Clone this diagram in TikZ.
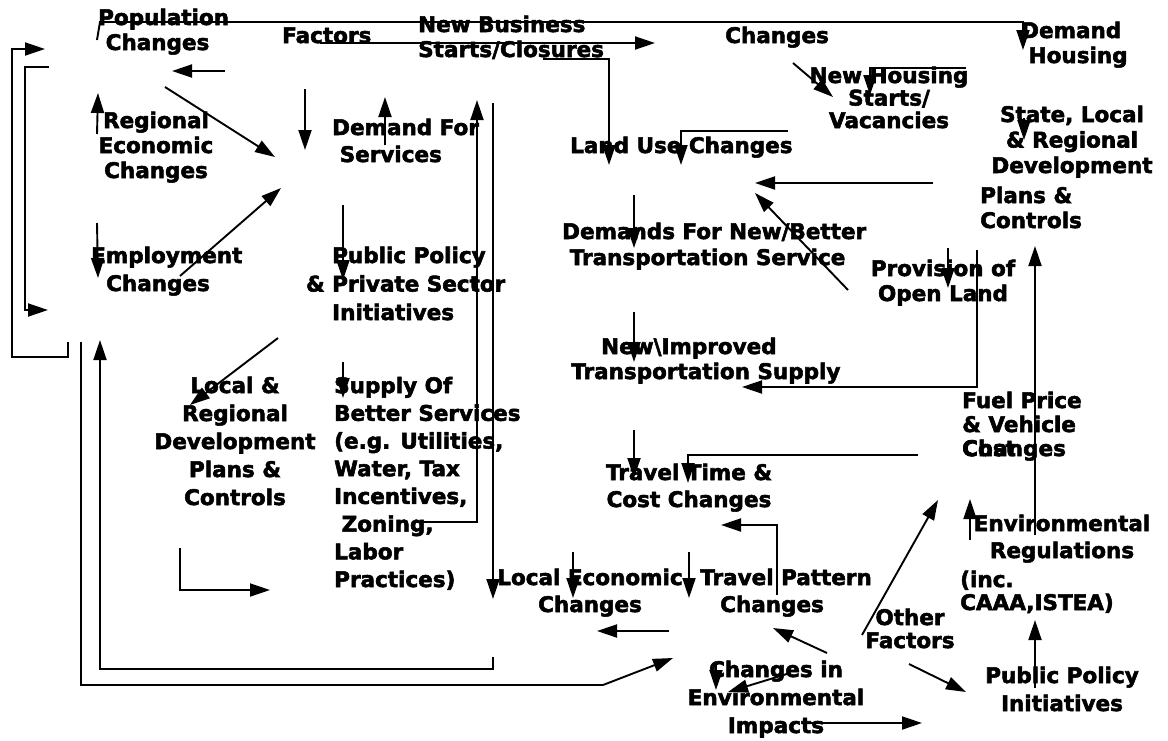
\documentclass[tikz,border=0pt]{standalone}
\usepackage{fontspec}
\setmainfont{DejaVu Sans}[BoldFeatures={FakeBold=2.5}]
\usetikzlibrary{arrows.meta}

\tikzset{
  lbl/.style={font=\bfseries\fontsize{21.5}{#1}\selectfont, inner sep=0pt, anchor=base, align=center},
  lbl/.default=26,
  lblw/.style={lbl=#1, anchor=base west, align=left},
  lblw/.default=26,
  trait/.style={line width=1.9pt},
  fleche/.style={trait, -{Triangle[length=20pt,width=13pt]}}
}

\begin{document}
\begin{tikzpicture}[x=1pt,y=-1pt]
  \useasboundingbox (0,0) rectangle (1168,740);

  % Les textes (ancre sur la derniere ligne)
  \node[lblw=25] (pop) at (98,50) {Population\\~Changes};
  \node[lblw] (fac) at (282,43) {Factors};
  \node[lblw=25] (nbs) at (418,57) {New Business\\Starts/Closures};
  \node[lblw] (chg) at (725,43) {Changes};
  \node[lblw=25] (dhs) at (1021,63) {Demand\\~Housing};
  \node[lbl=22.5] (nhs) at (889,128) {New Housing\\Starts/\\Vacancies};
  \node[lblw] (luc) at (570,153) {Land Use Changes};
  \node[lbl=25] (rec) at (156,178) {Regional\\Economic\\Changes};
  \node[lblw=27] (dfs) at (332,162) {Demand For\\~Services};
  \node[lbl=25.5] (slr) at (1072,173) {State, Local\\\& Regional\\Development};
  \node[lblw=25] (plc) at (980,228) {Plans \&\\Controls};
  \node[lblw=26] (dnb) at (562,265) {Demands For New/Better\\~Transportation Service};
  \node[lbl=25] (pol) at (943,301) {Provision of\\Open Land};
  \node[lblw=28] (emp) at (91,291) {Employment\\~~Changes};
  \node[lblw=28.5] (ppp) at (332,320) {Public Policy\\\llap{\& }Private Sector\\Initiatives};
  \node[lblw=25] (nit) at (571,379) {\hspace*{30pt}New\textbackslash Improved\\Transportation Supply};
  \node[lbl=28] (lrd) at (235,505) {Local \&\\Regional\\Development\\Plans \&\\Controls};
  \node[lblw=27.7] (sob) at (334,587) {Supply Of\\Better Services\\(e.g. Utilities,\\Water, Tax\\Incentives,\\~Zoning,\\Labor\\Practices)};
  \node[lblw=24] (fpv) at (962,456) {Fuel Price\\\& Vehicle\\\rlap{Cost}Changes};
  \node[lbl=27] (ttc) at (689,507) {Travel Time \&\\Cost Changes};
  \node[lbl=27] (env) at (1062,558) {Environmental\\Regulations};
  \node[lblw=23] (inc) at (960,610) {(inc.\\CAAA,ISTEA)};
  \node[lbl=27] (lec) at (590,612) {Local Economic\\Changes};
  \node[lblw=27] (tpc) at (700,612) {Travel Pattern\\\hspace*{20pt}Changes};
  \node[lbl=23] (oth) at (910,648) {Other\\Factors};
  \node[lbl=28] (cie) at (776,733) {Changes in\\Environmental\\Impacts};
  \node[lbl=28] (ppi) at (1062,711) {Public Policy\\Initiatives};

  % Les points du haut
  \coordinate (popA) at (97,40);  \coordinate (popB) at (100,22);
  \coordinate (dhA) at (1023,22); \coordinate (dhB) at (1023,50);
  \coordinate (facA) at (320,43); \coordinate (chgA) at (655,43);
  \coordinate (nbA) at (543,59);  \coordinate (nbB) at (609,59);  \coordinate (luA) at (609,165);
  \coordinate (luB) at (788,131); \coordinate (luC) at (681,131); \coordinate (luD) at (681,165);
  \coordinate (plA) at (933,183); \coordinate (luE) at (755,183);
  \coordinate (olA) at (848,290); \coordinate (luF) at (755,193);
  \coordinate (chgB) at (793,63); \coordinate (nhA) at (833,97);
  \coordinate (nhB) at (966,68);  \coordinate (nhC) at (870,68);  \coordinate (nhD) at (870,95);
  \coordinate (slA) at (1024,118); \coordinate (slB) at (1024,140);

  % Les points de gauche
  \coordinate (gA) at (68,342); \coordinate (gB) at (68,357); \coordinate (gC) at (12,357);
  \coordinate (gD) at (12,49);  \coordinate (gE) at (45,49);
  \coordinate (hA) at (49,67);  \coordinate (hB) at (25,67);  \coordinate (hC) at (25,310); \coordinate (hD) at (48,310);
  \coordinate (popC) at (225,71); \coordinate (popD) at (172,71);
  \coordinate (popE) at (165,87); \coordinate (cenA) at (275,157);
  \coordinate (recA) at (97,134); \coordinate (recB) at (98,93);
  \coordinate (facB) at (305,89); \coordinate (facC) at (305,150);
  \coordinate (dfsA) at (385,145); \coordinate (dfsB) at (385,97);
  \coordinate (empA) at (180,276); \coordinate (cenB) at (281,188);
  \coordinate (recC) at (97,223); \coordinate (empB) at (98,278);
  \coordinate (dfsC) at (343,205); \coordinate (ppB) at (343,280);
  \coordinate (ppC) at (278,338); \coordinate (lrA) at (190,405);
  \coordinate (ppD) at (343,362); \coordinate (sobA) at (343,398);
  \coordinate (lrB) at (180,548); \coordinate (lrC) at (180,590); \coordinate (lrD) at (270,590);
  \coordinate (sobB) at (416,522); \coordinate (sobC) at (477,522); \coordinate (dfsD) at (477,100);
  \coordinate (dfsE) at (493,103); \coordinate (lecA) at (493,599);
  \coordinate (iA) at (493,657); \coordinate (iB) at (493,669); \coordinate (iC) at (100,669); \coordinate (iD) at (100,340);
  \coordinate (oA) at (81,342); \coordinate (oB) at (81,685); \coordinate (oC) at (603,685); \coordinate (oD) at (673,658);

  % Les points du milieu et de droite
  \coordinate (dnA) at (634,195); \coordinate (dnB) at (634,248);
  \coordinate (niA) at (634,312); \coordinate (niB) at (634,362);
  \coordinate (ttA) at (634,430); \coordinate (ttB) at (634,478);
  \coordinate (fpA) at (918,455); \coordinate (fpB) at (688,455); \coordinate (ttC) at (688,483);
  \coordinate (olB) at (977,250); \coordinate (olC) at (977,387); \coordinate (niC) at (742,387);
  \coordinate (polA) at (948,248); \coordinate (polB) at (948,288);
  \coordinate (erA) at (1035,535); \coordinate (slC) at (1035,246);
  \coordinate (erB) at (970,540); \coordinate (fpC) at (970,499);
  \coordinate (lecB) at (573,552); \coordinate (lecC) at (573,598);
  \coordinate (tpA) at (689,552); \coordinate (tpB) at (689,598);
  \coordinate (tpC) at (669,631); \coordinate (lecD) at (597,631);
  \coordinate (tpD) at (777,595); \coordinate (tpE) at (777,525); \coordinate (ttD) at (721,525);
  \coordinate (cieA) at (827,653); \coordinate (tpF) at (773,628);
  \coordinate (othA) at (862,635); \coordinate (fpD) at (938,500);
  \coordinate (othB) at (909,664); \coordinate (ppiA) at (966,692);
  \coordinate (cieB) at (810,723); \coordinate (cieC) at (922,723);
  \coordinate (cieD) at (716,662); \coordinate (cieE) at (716,690);
  \coordinate (cieF) at (790,673); \coordinate (cieG) at (728,692);
  \coordinate (ppiB) at (1035,688); \coordinate (incA) at (1035,620);

  % Les fleches du haut
  \draw[fleche] (popA) -- (popB) -- (dhA) -- (dhB);
  \draw[fleche] (facA) -- (chgA);
  \draw[fleche] (nbA) -- (nbB) -- (luA);
  \draw[fleche] (luB) -- (luC) -- (luD);
  \draw[fleche] (plA) -- (luE);
  \draw[fleche] (olA) -- (luF);
  \draw[fleche] (chgB) -- (nhA);
  \draw[fleche] (nhB) -- (nhC) -- (nhD);
  \draw[fleche] (slA) -- (slB);

  % Les fleches de gauche
  \draw[fleche] (gA) -- (gB) -- (gC) -- (gD) -- (gE);
  \draw[fleche] (hA) -- (hB) -- (hC) -- (hD);
  \draw[fleche] (popC) -- (popD);
  \draw[fleche] (popE) -- (cenA);
  \draw[fleche] (recA) -- (recB);
  \draw[fleche] (facB) -- (facC);
  \draw[fleche] (dfsA) -- (dfsB);
  \draw[fleche] (empA) -- (cenB);
  \draw[fleche] (recC) -- (empB);
  \draw[fleche] (dfsC) -- (ppB);
  \draw[fleche] (ppC) -- (lrA);
  \draw[fleche] (ppD) -- (sobA);
  \draw[fleche] (lrB) -- (lrC) -- (lrD);
  \draw[fleche] (sobB) -- (sobC) -- (dfsD);
  \draw[fleche] (dfsE) -- (lecA);
  \draw[fleche] (iA) -- (iB) -- (iC) -- (iD);
  \draw[fleche] (oA) -- (oB) -- (oC) -- (oD);

  % Les fleches du milieu et de droite
  \draw[fleche] (dnA) -- (dnB);
  \draw[fleche] (niA) -- (niB);
  \draw[fleche] (ttA) -- (ttB);
  \draw[fleche] (fpA) -- (fpB) -- (ttC);
  \draw[fleche] (olB) -- (olC) -- (niC);
  \draw[fleche] (polA) -- (polB);
  \draw[fleche] (erA) -- (slC);
  \draw[fleche] (erB) -- (fpC);
  \draw[fleche] (lecB) -- (lecC);
  \draw[fleche] (tpA) -- (tpB);
  \draw[fleche] (tpC) -- (lecD);
  \draw[fleche] (tpD) -- (tpE) -- (ttD);
  \draw[fleche] (cieA) -- (tpF);
  \draw[fleche] (othA) -- (fpD);
  \draw[fleche] (othB) -- (ppiA);
  \draw[fleche] (cieB) -- (cieC);
  \draw[fleche] (cieD) -- (cieE);
  \draw[fleche] (cieF) -- (cieG);
  \draw[fleche] (ppiB) -- (incA);
\end{tikzpicture}
\end{document}
